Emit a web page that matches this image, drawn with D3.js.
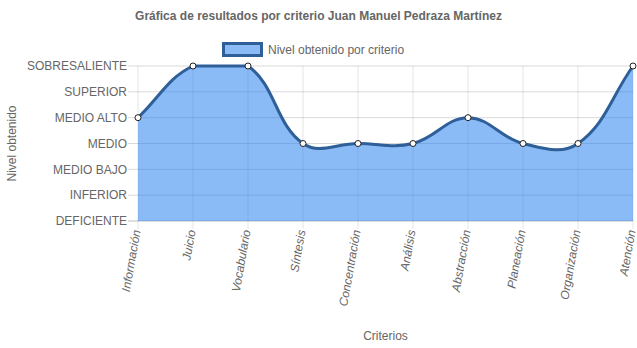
<!DOCTYPE html>
<html>
<head>
<meta charset="utf-8">
<script src="https://cdn.jsdelivr.net/npm/d3@7"></script>
<style>
  body { margin: 0; background: #fff; }
  svg { display: block; font-family: "Liberation Sans", Arial, sans-serif; }
</style>
</head>
<body>
<svg id="chart" width="637" height="348"></svg>
<script>
// ── Data ──────────────────────────────────────
const criterios = ["Información", "Juicio", "Vocabulario", "Síntesis", "Concentración",
  "Análisis", "Abstracción", "Planeación", "Organización", "Atención"];
const niveles = ["DEFICIENTE", "INFERIOR", "MEDIO BAJO", "MEDIO", "MEDIO ALTO", "SUPERIOR", "SOBRESALIENTE"];
const valores = ["MEDIO ALTO", "SOBRESALIENTE", "SOBRESALIENTE", "MEDIO", "MEDIO",
  "MEDIO", "MEDIO ALTO", "MEDIO", "MEDIO", "SOBRESALIENTE"];

const titulo = "Gráfica de resultados por criterio Juan Manuel Pedraza Martínez";
const serieNombre = "Nivel obtenido por criterio";

// ── Layout ────────────────────────────────────
const plotL = 138, plotR = 633, plotT = 66, plotB = 221;
const lineColor = "#2f5f98";
const fillColor = "rgba(30,125,240,0.52)";
const textColor = "#666";

const svg = d3.select("#chart");

const x = d3.scalePoint().domain(criterios).range([plotL, plotR]);
const y = d3.scalePoint().domain(niveles).range([plotB, plotT]);

// ── Grid ──────────────────────────────────────
svg.append("g")
  .selectAll("line")
  .data(criterios)
  .join("line")
  .attr("x1", d => x(d)).attr("x2", d => x(d))
  .attr("y1", plotT).attr("y2", plotB + 8)
  .attr("stroke", "rgba(0,0,0,0.1)");

svg.append("g")
  .selectAll("line")
  .data(niveles)
  .join("line")
  .attr("x1", plotL - 10).attr("x2", plotR)
  .attr("y1", d => y(d)).attr("y2", d => y(d))
  .attr("stroke", d => d === "DEFICIENTE" ? "rgba(0,0,0,0.25)" : "rgba(0,0,0,0.15)");

// ── Y axis labels ─────────────────────────────
svg.append("g")
  .selectAll("text")
  .data(niveles)
  .join("text")
  .attr("x", plotL - 11)
  .attr("y", d => y(d))
  .attr("dy", "0.35em")
  .attr("text-anchor", "end")
  .attr("fill", textColor)
  .attr("font-size", 12)
  .text(d => d);

// ── X axis labels (rotated) ───────────────────
svg.append("g")
  .selectAll("text")
  .data(criterios)
  .join("text")
  .attr("transform", d => `translate(${x(d) - 1},${plotB + 9}) rotate(-80)`)
  .attr("text-anchor", "end")
  .attr("dy", "0.3em")
  .attr("fill", textColor)
  .attr("font-size", 12)
  .attr("font-style", "italic")
  .text(d => d);

// ── Axis titles ───────────────────────────────
svg.append("text")
  .attr("transform", `translate(16,${(plotT + plotB) / 2}) rotate(-90)`)
  .attr("text-anchor", "middle")
  .attr("fill", textColor)
  .attr("font-size", 12)
  .text("Nivel obtenido");

svg.append("text")
  .attr("x", (plotL + plotR) / 2)
  .attr("y", 340)
  .attr("text-anchor", "middle")
  .attr("fill", textColor)
  .attr("font-size", 12)
  .text("Criterios");

// ── Title & legend ────────────────────────────
svg.append("text")
  .attr("x", 318.5)
  .attr("y", 20)
  .attr("text-anchor", "middle")
  .attr("fill", textColor)
  .attr("font-size", 12)
  .attr("font-weight", "bold")
  .text(titulo);

svg.append("rect")
  .attr("x", 223.5).attr("y", 43.5)
  .attr("width", 38).attr("height", 12)
  .attr("fill", fillColor)
  .attr("stroke", lineColor)
  .attr("stroke-width", 3);

svg.append("text")
  .attr("x", 268)
  .attr("y", 54)
  .attr("fill", textColor)
  .attr("font-size", 12)
  .text(serieNombre);

// ── Chart.js-like spline (tension 0.4) ────────
const pts = criterios.map((c, i) => ({ x: x(c), y: y(valores[i]) }));
const tension = 0.4;
pts.forEach((p, i) => {
  const prev = pts[i - 1] || p, next = pts[i + 1] || p;
  const d01 = Math.hypot(p.x - prev.x, p.y - prev.y);
  const d12 = Math.hypot(next.x - p.x, next.y - p.y);
  const s01 = d01 / (d01 + d12 || 1), s12 = d12 / (d01 + d12 || 1);
  const fa = tension * s01, fb = tension * s12;
  p.cpPrev = { x: p.x - fa * (next.x - prev.x), y: p.y - fa * (next.y - prev.y) };
  p.cpNext = { x: p.x + fb * (next.x - prev.x), y: p.y + fb * (next.y - prev.y) };
  // cap to chart area
  [p.cpPrev, p.cpNext].forEach(cp => {
    cp.x = Math.max(plotL, Math.min(plotR, cp.x));
    cp.y = Math.max(plotT, Math.min(plotB, cp.y));
  });
});

function curvePath(path) {
  path.moveTo(pts[0].x, pts[0].y);
  for (let i = 1; i < pts.length; i++) {
    const a = pts[i - 1], b = pts[i];
    path.bezierCurveTo(a.cpNext.x, a.cpNext.y, b.cpPrev.x, b.cpPrev.y, b.x, b.y);
  }
  return path;
}

const areaPath = curvePath(d3.path());
areaPath.lineTo(plotR, plotB);
areaPath.lineTo(plotL, plotB);
areaPath.closePath();

svg.append("path")
  .attr("d", areaPath.toString())
  .attr("fill", fillColor);

svg.append("path")
  .attr("d", curvePath(d3.path()).toString())
  .attr("fill", "none")
  .attr("stroke", lineColor)
  .attr("stroke-width", 3);

svg.append("g")
  .selectAll("circle")
  .data(pts)
  .join("circle")
  .attr("cx", d => d.x)
  .attr("cy", d => d.y)
  .attr("r", 3)
  .attr("fill", "#fff")
  .attr("stroke", "#222")
  .attr("stroke-width", 1);
</script>
</body>
</html>
